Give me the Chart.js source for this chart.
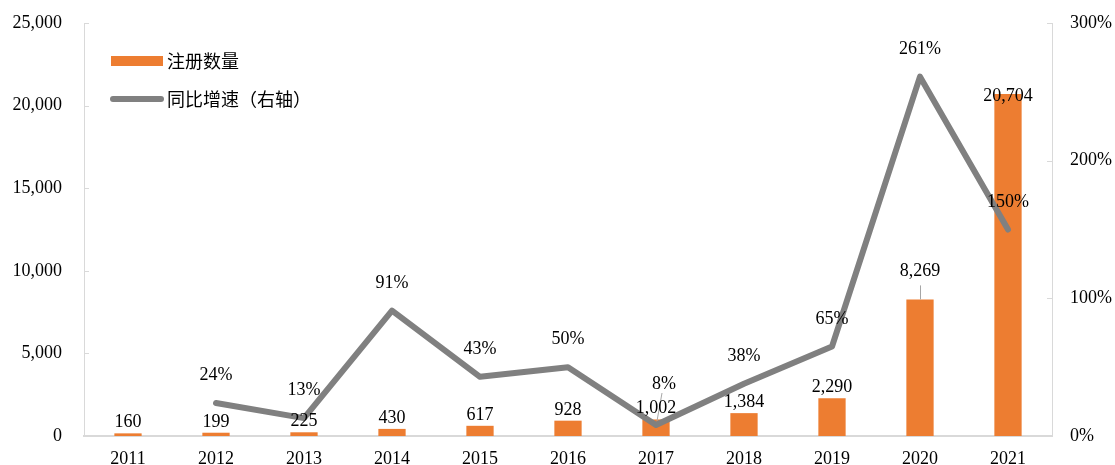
<!DOCTYPE html>
<html>
<head>
<meta charset="utf-8">
<script src="https://cdn.jsdelivr.net/npm/chart.js@4/dist/chart.umd.min.js"></script>
<style>
  html, body { margin: 0; padding: 0; background: #fff; overflow: hidden; }
  #wrap { width: 1115px; height: 480px; }
</style>
</head>
<body>
<div id="wrap"><canvas id="c"></canvas></div>
<script>
const years = ['2011','2012','2013','2014','2015','2016','2017','2018','2019','2020','2021']
const zhuce = [160,199,225,430,617,928,1002,1384,2290,8269,20704]
const zengsu = [null,24,13,91,43,50,8,38,65,261,150]

const serif = '"Liberation Serif", "Times New Roman", serif'
const cjk = '"Noto Sans CJK SC", "Noto Sans", sans-serif'
const orange = '#ED7D31'
const grey = '#808080'
const axisGrey = '#d9d9d9'

// ticks pointing into the plot + data labels + legend drawn by hand
const extras = {
  id: 'extras',
  beforeDatasetsDraw(chart) {
    const ctx = chart.ctx
    const y = chart.scales.y, y1 = chart.scales.y1, area = chart.chartArea
    ctx.save()
    ctx.strokeStyle = axisGrey
    ctx.lineWidth = 1
    y.ticks.forEach(t => {
      const py = Math.round(y.getPixelForValue(t.value)) + 0.5
      ctx.beginPath(); ctx.moveTo(area.left, py); ctx.lineTo(area.left + 5, py); ctx.stroke()
    })
    y1.ticks.forEach(t => {
      const py = Math.round(y1.getPixelForValue(t.value)) + 0.5
      ctx.beginPath(); ctx.moveTo(area.right - 5, py); ctx.lineTo(area.right, py); ctx.stroke()
    })
    ctx.restore()
  },
  afterDatasetsDraw(chart) {
    const ctx = chart.ctx
    ctx.save()
    ctx.font = '18px ' + serif
    ctx.fillStyle = '#000'
    ctx.textAlign = 'center'
    ctx.textBaseline = 'alphabetic'

    // line labels
    const lineMeta = chart.getDatasetMeta(1)
    lineMeta.data.forEach((p, i) => {
      const v = zengsu[i]
      if (v === null) return
      let dy = -23, dx = 0
      if (i === 6) {
        dy = -36; dx = 8
        ctx.strokeStyle = '#a6a6a6'; ctx.lineWidth = 1
        ctx.beginPath(); ctx.moveTo(p.x + 6, p.y - 32); ctx.lineTo(p.x + 1, p.y - 4); ctx.stroke()
      }
      ctx.fillText(v + '%', p.x + dx, p.y + dy)
    })

    // bar labels
    const barMeta = chart.getDatasetMeta(0)
    barMeta.data.forEach((b, i) => {
      let dy = -6
      if (i === 9) {
        dy = -23
        ctx.strokeStyle = '#a6a6a6'; ctx.lineWidth = 1
        ctx.beginPath(); ctx.moveTo(b.x + 0.5, b.y - 14); ctx.lineTo(b.x + 0.5, b.y); ctx.stroke()
      }
      if (i === 10) dy = 7
      ctx.fillText(zhuce[i].toLocaleString('en-US'), b.x, b.y + dy)
    })

    // legend
    ctx.fillStyle = orange
    ctx.fillRect(111, 56, 52, 10)
    ctx.strokeStyle = grey
    ctx.lineWidth = 6
    ctx.lineCap = 'round'
    ctx.beginPath(); ctx.moveTo(113, 99); ctx.lineTo(161, 99); ctx.stroke()
    ctx.fillStyle = '#000'
    ctx.font = '18px ' + cjk
    ctx.textAlign = 'left'
    ctx.textBaseline = 'middle'
    ctx.fillText(chart.data.datasets[0].label, 167, 61)
    ctx.fillText(chart.data.datasets[1].label, 167, 99)
    ctx.restore()
  }
}

// fixed axis sizes so the plot sits where the original one does
const fitY = w => s => { s.width = w; s.paddingTop = 11; s.paddingBottom = 11 }

new Chart(document.getElementById('c'), {
  data: {
    labels: years,
    datasets: [
      {
        type: 'bar',
        label: '注册数量',
        data: zhuce,
        backgroundColor: orange,
        yAxisID: 'y',
        barPercentage: 0.31,
        categoryPercentage: 1,
        order: 2
      },
      {
        type: 'line',
        label: '同比增速（右轴）',
        data: zengsu,
        borderColor: grey,
        backgroundColor: grey,
        borderWidth: 6,
        borderCapStyle: 'round',
        borderJoinStyle: 'round',
        pointRadius: 0,
        tension: 0,
        yAxisID: 'y1',
        order: 1
      }
    ]
  },
  plugins: [extras],
  options: {
    responsive: true,
    maintainAspectRatio: false,
    animation: false,
    layout: { padding: { top: 23, left: 0, right: 0, bottom: 0 } },
    plugins: {
      legend: { display: false },
      tooltip: { enabled: false }
    },
    scales: {
      x: {
        grid: { display: false, drawTicks: false },
        border: { color: axisGrey, width: 2 },
        ticks: { color: '#000', font: { family: serif, size: 18 }, padding: 12 },
        afterFit(s) { s.height = 44 }
      },
      y: {
        position: 'left',
        min: 0, max: 25000,
        grid: { display: false, drawTicks: false },
        border: { color: axisGrey, width: 1 },
        ticks: {
          stepSize: 5000,
          color: '#000',
          font: { family: serif, size: 18 },
          padding: 22,
          callback: v => v.toLocaleString('en-US')
        },
        afterFit: fitY(84)
      },
      y1: {
        position: 'right',
        min: 0, max: 300,
        grid: { display: false, drawTicks: false },
        border: { color: axisGrey, width: 1 },
        ticks: {
          stepSize: 100,
          color: '#000',
          font: { family: serif, size: 18 },
          padding: 18,
          callback: v => v + '%'
        },
        afterFit: fitY(63)
      }
    }
  }
})
</script>
</body>
</html>
